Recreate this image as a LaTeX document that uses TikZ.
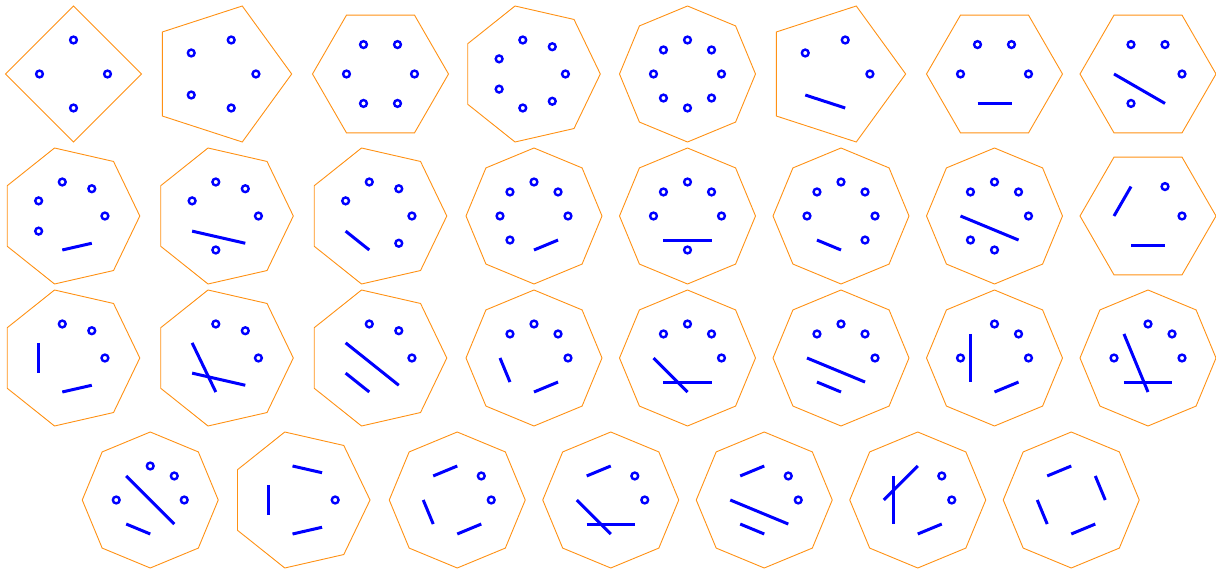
\documentclass[tikz,border=0pt]{standalone}
\definecolor{gonorange}{RGB}{255,145,20}
\tikzset{
  gonline/.style={draw=gonorange, line width=0.9pt, line join=miter},
  chord/.style={draw=blue, line width=3pt, line cap=butt},
  dot/.style={circle, draw=blue, fill=white, line width=2.4pt, inner sep=0pt, minimum size=6.8pt}
}
\newcommand\gonR[1]{\ifcase#1\or\or\or\or68\or71.5\or68\or69.75\or68\fi}
\newcommand\gonOff[1]{\ifcase#1\or\or\or\or0\or-6.83\or0\or-3.45\or0\fi}
% #1 id, #2 sides, #3 cell x, #4 cell y (downwards), #5 dot indices, #6 chords a/b
\newcommand\gon[6]{%
  \pgfmathsetmacro\gR{\gonR{#2}}%
  \pgfmathsetmacro\gX{#3+(\gonOff{#2})}%
  \pgfmathtruncatemacro\gN{#2-1}%
  \begin{scope}[shift={(\gX,-#4)}]
    \coordinate (#1) at (0,0);
    \draw[gonline] (0:\gR) \foreach \k in {1,...,\gN}{ -- ({\k*360/#2}:\gR)} -- cycle;
    \foreach \k in {0,...,\gN}{%
      \pgfmathsetmacro\px{round(100*cos(\k*360/#2)*\gR/2)/100}%
      \pgfmathsetmacro\py{round(100*sin(\k*360/#2)*\gR/2)/100}%
      \coordinate (#1-\k) at (\px,\py);}
    \if\relax\detokenize{#6}\relax\else
      \foreach \a/\b in {#6}{\draw[chord] (#1-\a) -- (#1-\b);}
    \fi
    \if\relax\detokenize{#5}\relax\else
      \foreach \k in {#5}{\node[dot] (#1-d\k) at (#1-\k) {};}
    \fi
  \end{scope}}
\begin{document}
\begin{tikzpicture}[x=1pt,y=1pt]
\useasboundingbox (0,0) rectangle (1216,-569);
% row 1
\gon{a1}{4}{73.5}{74}{0,1,2,3}{}
\gon{a2}{5}{227}{74}{0,1,2,3,4}{}
\gon{a3}{6}{380.5}{74}{0,1,2,3,4,5}{}
\gon{a4}{7}{534}{74}{0,1,2,3,4,5,6}{}
\gon{a5}{8}{687.5}{74}{0,1,2,3,4,5,6,7}{}
\gon{a6}{5}{841}{74}{0,1,2}{3/4}
\gon{a7}{6}{994.5}{74}{0,1,2,3}{4/5}
\gon{a8}{6}{1148}{74}{0,1,2,4}{3/5}
% row 2
\gon{b1}{7}{73.5}{216}{0,1,2,3,4}{5/6}
\gon{b2}{7}{227}{216}{0,1,2,3,5}{4/6}
\gon{b3}{7}{380.5}{216}{0,1,2,3,6}{4/5}
\gon{b4}{8}{534}{216}{0,1,2,3,4,5}{6/7}
\gon{b5}{8}{687.5}{216}{0,1,2,3,4,6}{5/7}
\gon{b6}{8}{841}{216}{0,1,2,3,4,7}{5/6}
\gon{b7}{8}{994.5}{216}{0,1,2,3,5,6}{4/7}
\gon{b8}{6}{1148}{216}{0,1}{2/3,4/5}
% row 3
\gon{c1}{7}{73.5}{358}{0,1,2}{3/4,5/6}
\gon{c2}{7}{227}{358}{0,1,2}{3/5,4/6}
\gon{c3}{7}{380.5}{358}{0,1,2}{3/6,4/5}
\gon{c4}{8}{534}{358}{0,1,2,3}{4/5,6/7}
\gon{c5}{8}{687.5}{358}{0,1,2,3}{4/6,5/7}
\gon{c6}{8}{841}{358}{0,1,2,3}{4/7,5/6}
\gon{c7}{8}{994.5}{358}{0,1,2,4}{3/5,6/7}
\gon{c8}{8}{1148}{358}{0,1,2,4}{3/6,5/7}
% row 4
\gon{d1}{8}{150.25}{500}{0,1,2,4}{3/7,5/6}
\gon{d2}{7}{303.75}{500}{0}{1/2,3/4,5/6}
\gon{d3}{8}{457.25}{500}{0,1}{2/3,4/5,6/7}
\gon{d4}{8}{610.75}{500}{0,1}{2/3,4/6,5/7}
\gon{d5}{8}{764.25}{500}{0,1}{2/3,4/7,5/6}
\gon{d6}{8}{917.75}{500}{0,1}{2/4,3/5,6/7}
\gon{d7}{8}{1071.25}{500}{}{0/1,2/3,4/5,6/7}
\end{tikzpicture}
\end{document}
